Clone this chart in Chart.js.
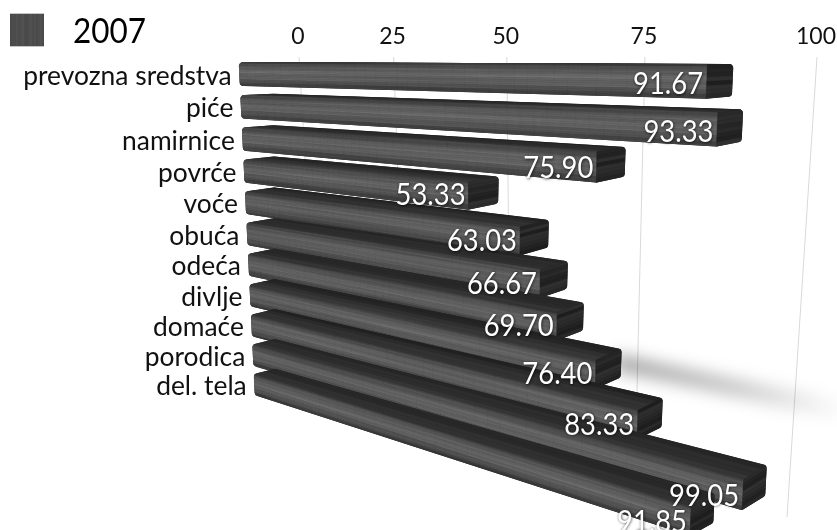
<!DOCTYPE html>
<html>
<head>
<meta charset="utf-8">
<style>html,body{margin:0;padding:0;background:#fff}canvas{display:block}</style>
<script src="https://cdn.jsdelivr.net/npm/chart.js@4"></script>
</head>
<body>
<canvas id="c" width="837" height="530"></canvas>
<script>
const categories = ['prevozna sredstva','piće','namirnice','povrće','voće','obuća','odeća','divlje','domaće','porodica','del. tela'];
const values2007 = [91.67,93.33,75.90,53.33,63.03,66.67,69.70,76.40,83.33,99.05,91.85];
const seriesName = '2007';
const valueTicks = [0,25,50,75,100];
const grainLevels = [-9,4,-3,10,-6,7,13,-2,-11,5,12,-4,8,-8,3,14,-5,9,-12,2,6,-7];

// Four-corner perspective map from the unit square onto a quad.
function perspective(p00, p10, p11, p01) {
  const dx1=p10[0]-p11[0], dx2=p01[0]-p11[0], dx3=p00[0]-p10[0]+p11[0]-p01[0];
  const dy1=p10[1]-p11[1], dy2=p01[1]-p11[1], dy3=p00[1]-p10[1]+p11[1]-p01[1];
  const den=dx1*dy2-dx2*dy1;
  const g=(dx3*dy2-dx2*dy3)/den, h=(dx1*dy3-dx3*dy1)/den;
  const a=p10[0]-p00[0]+g*p10[0], b=p01[0]-p00[0]+h*p01[0], c=p00[0];
  const d=p10[1]-p00[1]+g*p10[1], e=p01[1]-p00[1]+h*p01[1], f=p00[1];
  return (u,w)=>{const q=g*u+h*w+1;return [(a*u+b*w+c)/q,(d*u+e*w+f)/q];};
}
const frontPlane = perspective([228,57.5],[772.5,57.5],[746.5,560],[245,396]);
const backPlane  = perspective([263,57.7],[795.5,57.7],[769.5,546],[265,391]);
const gridPlane  = perspective([299,57],[817,57],[787,517],[318,377]);

const grey = n => { const g=Math.max(0,Math.min(255,Math.round(n))); return `rgb(${g},${g},${g})`; };
function quad(ctx,a,b,c,d,color){
  ctx.fillStyle=color; ctx.strokeStyle=color; ctx.lineWidth=0.5;
  ctx.beginPath(); ctx.moveTo(a[0],a[1]); ctx.lineTo(b[0],b[1]); ctx.lineTo(c[0],c[1]); ctx.lineTo(d[0],d[1]); ctx.closePath();
  ctx.fill(); ctx.stroke();
}
function roundedPath(ctx,pts,r){
  ctx.beginPath();
  const n=pts.length;
  const mid=(p,q)=>[(p[0]+q[0])/2,(p[1]+q[1])/2];
  const s=mid(pts[n-1],pts[0]);
  ctx.moveTo(s[0],s[1]);
  for(let i=0;i<n;i++){const p=pts[i],q=pts[(i+1)%n];ctx.arcTo(p[0],p[1],q[0],q[1],r);}
  ctx.closePath();
}
// Wood grain: level across the thickness, drifting slowly along the length.
function grain(row,s,seg){
  const k=grainLevels[(s+row*3)%grainLevels.length];
  return 0.75*k*(0.75+0.5*Math.sin(seg*0.22+s*1.3+row));
}
function drawBox(ctx,row,u0,u,wt,wb){
  const ftl=frontPlane(u0,wt),fbl=frontPlane(u0,wb),ftr=frontPlane(u,wt),fbr=frontPlane(u,wb);
  const btl=backPlane(u0,wt),btr=backPlane(u,wt),bbr=backPlane(u,wb);
  ctx.save();
  roundedPath(ctx,[ftl,btl,btr,bbr,fbr,fbl],4);
  ctx.clip();
  ctx.fillStyle='#272727'; ctx.fillRect(0,0,837,600);
  const STREAKS=15, SEGS=40, TOP=4;
  // upper face
  const mix=(p,q,t)=>[p[0]+(q[0]-p[0])*t,p[1]+(q[1]-p[1])*t];
  for(let s=0;s<TOP;s++){
    const a=s/TOP,b=(s+1)/TOP;
    quad(ctx,mix(btl,ftl,a),mix(btr,ftr,a),mix(btr,ftr,b),mix(btl,ftl,b),grey(36+s*5+grainLevels[s+row]*0.3));
  }
  // lit front face
  for(let s=0;s<STREAKS;s++){
    const t0=s/STREAKS,t1=(s+1)/STREAKS,tc=(t0+t1)/2;
    const w0=wt+(wb-wt)*t0,w1=wt+(wb-wt)*t1;
    const shade=58+42*Math.sin(Math.PI*Math.pow(tc,0.9));
    for(let m=0;m<SEGS;m++){
      const a0=u0+(u-u0)*m/SEGS,a1=u0+(u-u0)*(m+1)/SEGS;
      quad(ctx,frontPlane(a0,w0),frontPlane(a1,w0),frontPlane(a1,w1),frontPlane(a0,w1),
        grey(shade+grain(row,s,m)));
    }
  }
  // end cap
  const CAP=8;
  for(let s=0;s<CAP;s++){
    const w0=wt+(wb-wt)*s/CAP,w1=wt+(wb-wt)*(s+1)/CAP;
    quad(ctx,frontPlane(u,w0),backPlane(u,w0),backPlane(u,w1),frontPlane(u,w1),
      grey(38+grainLevels[(s*2+row)%grainLevels.length]*0.7));
  }
  ctx.restore();
}

const warpedBars = {
  id:'warpedBars',
  beforeDatasetsDraw(chart){
    const ctx=chart.ctx, area=chart.chartArea;
    ctx.save();
    // gridlines and value axis
    ctx.lineWidth=1; ctx.strokeStyle='#d9d9d9';
    ctx.font='23px Lato'; ctx.textAlign='center'; ctx.textBaseline='middle';
    const xs=chart.scales.x;
    const lo=xs.getPixelForValue(valueTicks[0]), hi=xs.getPixelForValue(valueTicks[valueTicks.length-1]);
    valueTicks.forEach(t=>{
      const u=(xs.getPixelForValue(t)-lo)/(hi-lo);
      const a=gridPlane(u,0),b=gridPlane(u,1);
      ctx.beginPath(); ctx.moveTo(a[0],a[1]); ctx.lineTo(b[0],b[1]); ctx.stroke();
      ctx.fillStyle='#111';
      ctx.fillText(String(t),a[0]-1,37);
    });
    // soft cast shadow trailing the 76.40 bar
    const meta=chart.getDatasetMeta(0), el=meta.data[7];
    const wc=(el.y-area.top)/area.height, hw=(el.height/area.height)/2;
    const u0=(el.x-area.left)/area.width-0.01, u1=1.2;
    const p=[backPlane(u0,wc-hw*0.6),backPlane(u1,wc-hw*0.6),backPlane(u1,wc+hw*0.6),backPlane(u0,wc+hw*0.6)];
    ctx.filter='blur(8px)';
    const sg=ctx.createLinearGradient(p[0][0],0,p[1][0],0);
    sg.addColorStop(0,'rgba(0,0,0,0.36)'); sg.addColorStop(0.35,'rgba(0,0,0,0.22)'); sg.addColorStop(0.7,'rgba(0,0,0,0)');
    ctx.fillStyle=sg;
    ctx.beginPath(); p.forEach((q,i)=>i?ctx.lineTo(q[0],q[1]):ctx.moveTo(q[0],q[1])); ctx.closePath(); ctx.fill();
    ctx.filter='none';
    // legend swatch and series name
    ctx.fillStyle='#c4c4c4'; ctx.fillRect(10,13,34,34);
    for(let i=0;i<34;i+=2){
      ctx.fillStyle=grey(76+grainLevels[(i/2)%grainLevels.length]*0.35);
      ctx.fillRect(10+i,14,2,32);
    }
    ctx.font='34px Lato'; ctx.fillStyle='#000'; ctx.textAlign='left'; ctx.textBaseline='alphabetic';
    ctx.fillText(chart.data.datasets[0].label,73,42.5,73);
    // category labels beside each bar
    ctx.font='26.4px Lato'; ctx.textAlign='right'; ctx.textBaseline='middle'; ctx.fillStyle='#111';
    chart.data.labels.forEach((lab,i)=>{
      const b=meta.data[i];
      const pos=frontPlane((b.base-area.left)/area.width,(b.y-area.top)/area.height);
      ctx.fillText(lab,pos[0]-7.5,pos[1]+2);
    });
    ctx.restore();
  },
  beforeDatasetDraw(chart,args){
    const ctx=chart.ctx, area=chart.chartArea;
    args.meta.data.forEach((b,i)=>{
      const u0=(b.base-area.left)/area.width;
      const u=(b.x-area.left)/area.width;
      const wt=(b.y-b.height/2-area.top)/area.height, wb=(b.y+b.height/2-area.top)/area.height;
      drawBox(ctx,i,u0,u,wt,wb);
    });
    return false;
  },
  afterDatasetsDraw(chart){
    const ctx=chart.ctx, area=chart.chartArea, meta=chart.getDatasetMeta(0);
    ctx.save();
    ctx.font='30px Lato'; ctx.textAlign='right'; ctx.textBaseline='middle';
    ctx.shadowColor='rgba(0,0,0,0.75)'; ctx.shadowBlur=3; ctx.shadowOffsetX=0.5; ctx.shadowOffsetY=0.5;
    ctx.fillStyle='#fff';
    meta.data.forEach((b,i)=>{
      const u=(b.x-area.left)/area.width, wb=(b.y+b.height/2-area.top)/area.height;
      const p=frontPlane(u,wb);
      const txt=chart.data.datasets[0].data[i].toFixed(2);
      ctx.fillText(txt,p[0]-3,p[1]-14,70);
    });
    ctx.restore();
  }
};

new Chart(document.getElementById('c'),{
  type:'bar',
  data:{labels:categories,datasets:[{label:seriesName,data:values2007,barPercentage:0.72,categoryPercentage:1}]},
  plugins:[warpedBars],
  options:{
    indexAxis:'y',responsive:false,animation:false,
    layout:{padding:0},
    plugins:{legend:{display:false},tooltip:{enabled:false}},
    scales:{
      x:{display:false,min:-3,max:100},
      y:{display:false}
    }
  }
});
</script>
</body>
</html>
